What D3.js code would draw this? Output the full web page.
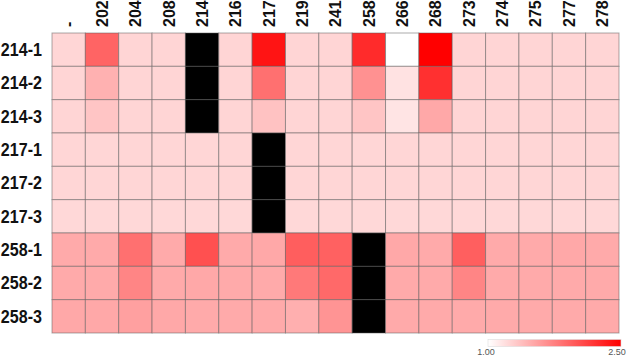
<!DOCTYPE html>
<html>
<head>
<meta charset="utf-8">
<script src="https://cdn.jsdelivr.net/npm/d3@7"></script>
<style>
  body { margin: 0; background: #fff; }
  svg { display: block; font-family: "Liberation Sans", Arial, sans-serif; }
</style>
</head>
<body>
<svg id="chart" width="630" height="356"></svg>
<script>
// column / row labels
const columns = ['-', '202', '204', '208', '214', '216', '217', '219', '241', '258', '266', '268', '273', '274', '275', '277', '278'];
const rows = ['214-1', '214-2', '214-3', '217-1', '217-2', '217-3', '258-1', '258-2', '258-3'];

// fold change per cell, null = not measured (drawn black)
const v214_1 = [1.24, 1.91, 1.25, 1.25, null, 1.25, 2.38, 1.25, 1.25, 2.25, 1.00, 2.50, 1.25, 1.25, 1.25, 1.25, 1.25];
const v214_2 = [1.25, 1.46, 1.25, 1.25, null, 1.25, 1.84, 1.25, 1.25, 1.65, 1.17, 2.22, 1.25, 1.25, 1.25, 1.25, 1.25];
const v214_3 = [1.25, 1.34, 1.25, 1.25, null, 1.25, 1.36, 1.25, 1.25, 1.34, 1.16, 1.51, 1.25, 1.25, 1.25, 1.25, 1.25];
const v217_1 = [1.24, 1.24, 1.24, 1.24, 1.24, 1.24, null, 1.24, 1.24, 1.24, 1.24, 1.24, 1.24, 1.24, 1.24, 1.24, 1.24];
const v217_2 = [1.24, 1.24, 1.24, 1.24, 1.24, 1.24, null, 1.24, 1.24, 1.24, 1.24, 1.24, 1.24, 1.24, 1.24, 1.24, 1.24];
const v217_3 = [1.23, 1.23, 1.23, 1.23, 1.23, 1.23, null, 1.23, 1.23, 1.23, 1.23, 1.23, 1.23, 1.23, 1.23, 1.23, 1.23];
const v258_1 = [1.50, 1.50, 1.84, 1.50, 2.03, 1.50, 1.51, 1.95, 1.93, null, 1.51, 1.50, 1.94, 1.50, 1.50, 1.51, 1.50];
const v258_2 = [1.50, 1.50, 1.72, 1.50, 1.51, 1.50, 1.50, 1.79, 1.88, null, 1.50, 1.50, 1.72, 1.50, 1.50, 1.50, 1.50];
const v258_3 = [1.51, 1.51, 1.56, 1.51, 1.50, 1.50, 1.50, 1.47, 1.63, null, 1.50, 1.50, 1.50, 1.50, 1.50, 1.50, 1.50];
const values = [v214_1, v214_2, v214_3, v217_1, v217_2, v217_3, v258_1, v258_2, v258_3];

const legendTicks = [1.00, 2.50];

const svg = d3.select('#chart');
const gridLeft = 52, gridTop = 33, gridRight = 619, gridBottom = 333;

const x = d3.scaleBand().domain(columns).range([gridLeft, gridRight]);
const y = d3.scaleBand().domain(rows).range([gridTop, gridBottom]);
const color = d3.scaleLinear().domain(legendTicks).range(['#ffffff', '#ff0000']).clamp(true);

const cells = [];
rows.forEach((r, i) => columns.forEach((c, j) => cells.push({ r, c, v: values[i][j] })));

svg.append('g')
  .selectAll('rect')
  .data(cells)
  .join('rect')
    .attr('x', d => x(d.c))
    .attr('y', d => y(d.r))
    .attr('width', x.bandwidth())
    .attr('height', y.bandwidth())
    .attr('fill', d => d.v == null ? '#000' : color(d.v))
    .attr('stroke', 'rgba(90,90,90,0.5)')
    .attr('stroke-width', 1);

// column labels, rotated
svg.append('g')
  .selectAll('text')
  .data(columns)
  .join('text')
    .attr('transform', d => `translate(${x(d) + x.bandwidth() / 2 + 5.8},27) rotate(-90)`)
    .attr('font-size', 16)
    .attr('font-weight', 'bold')
    .attr('fill', '#111')
    .text(d => d);

// row labels (glyphs a bit taller than wide in the original)
svg.append('g')
  .selectAll('text')
  .data(rows)
  .join('text')
    .attr('transform', d => `translate(42,${y(d) + y.bandwidth() / 2 + 6.4}) scale(0.92,1)`)
    .attr('text-anchor', 'end')
    .attr('font-size', 17.5)
    .attr('font-weight', 'bold')
    .attr('fill', '#111')
    .text(d => d);

// legend
const lg = svg.append('defs').append('linearGradient').attr('id', 'lg');
lg.append('stop').attr('offset', '0%').attr('stop-color', color(legendTicks[0]));
lg.append('stop').attr('offset', '100%').attr('stop-color', color(legendTicks[1]));

const lx = d3.scaleLinear().domain(legendTicks).range([488, 621]);
svg.append('rect')
  .attr('x', lx(1)).attr('y', 339.5)
  .attr('width', lx(2.5) - lx(1)).attr('height', 7)
  .attr('fill', 'url(#lg)')
  .attr('stroke', '#ddd').attr('stroke-width', 0.6);

svg.append('g')
  .selectAll('text')
  .data(legendTicks)
  .join('text')
    .attr('x', d => lx(d) - (d === 1 ? 2 : 4))
    .attr('y', 355)
    .attr('text-anchor', 'middle')
    .attr('font-size', 9)
    .attr('fill', '#555')
    .text(d => d.toFixed(2));
</script>
</body>
</html>
